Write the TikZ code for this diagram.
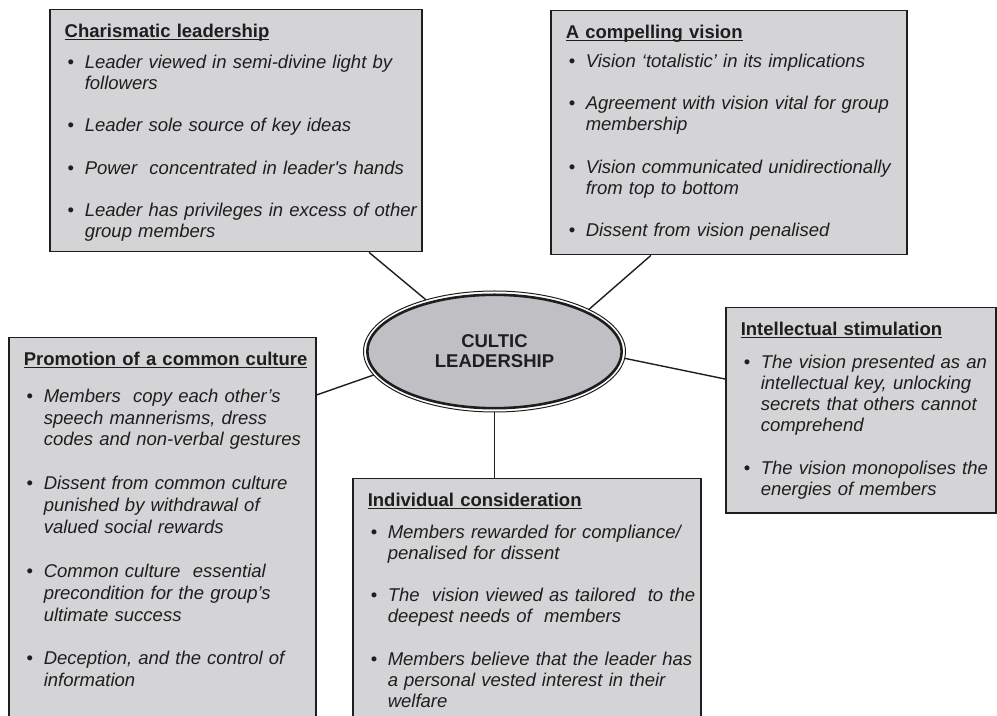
\documentclass[tikz,border=0pt]{standalone}
\usepackage{fontspec}
\setmainfont{Liberation Sans}
\usepackage{xcolor}
\usepackage{tikz}
\usetikzlibrary{shapes.geometric}
\definecolor{boxfill}{HTML}{D4D4D6}
\definecolor{ovalfill}{HTML}{C0C0C4}
\definecolor{ink}{HTML}{1E1E1E}
\newlength{\bulind}\setlength{\bulind}{10pt}
\newcommand{\boxfont}[1]{\fontsize{9.25pt}{#1}\selectfont}
\newcommand{\hdr}[2]{\noindent{\bfseries\setbox0\hbox{#2}\copy0\llap{\rule[-1.3pt]{\wd0}{0.6pt}}}\par\vspace{\dimexpr#1-2\baselineskip\relax}}
\newcommand{\itm}[1]{\par\vspace{\baselineskip}\noindent\makebox[\bulind][l]{\hspace{1.5pt}\textbullet}\mbox{\itshape #1}}
\newcommand{\cnt}[1]{\par\noindent\hspace*{\bulind}\mbox{\itshape #1}}
\newcommand{\tail}[1]{\par\vspace*{#1}}
\tikzstyle{topic} = [draw=ink, line width=0.75pt, fill=boxfill, anchor=north west, inner xsep=7.5pt, inner ysep=7pt, align=left, text=ink]
\tikzstyle{core} = [ellipse, draw=ink, line width=1.3pt, fill=ovalfill, minimum width=127.2pt, minimum height=56.7pt, outer sep=1.9pt, align=center, text=ink, font=\bfseries\fontsize{9.25pt}{10pt}\selectfont]
\tikzstyle{link} = [ink, line width=0.7pt]

\begin{document}
\begin{tikzpicture}[x=0.5pt,y=-0.5pt]
\useasboundingbox (0,0) rectangle (997,716);
\node[core] (cult) at (494.5,351.5) {CULTIC\\LEADERSHIP};
\draw[ink, line width=0.5pt] (cult.center) ellipse [x radius=65.5pt, y radius=30.25pt];
\node[topic, text width=171pt, font=\boxfont{10.6pt}] (charisma) at (49,9) {\hdr{15.5pt}{Charismatic leadership}
\itm{Leader viewed in semi-divine light by}\cnt{followers}
\itm{Leader sole source of key ideas}
\itm{Power~ concentrated in leader\textquotesingle s hands}
\itm{Leader has privileges in excess of other}\cnt{group members}\tail{-2pt}};
\node[topic, text width=163pt, font=\boxfont{10.6pt}] (vision) at (550,10) {\hdr{14.5pt}{A compelling vision}
\itm{Vision `totalistic' in its implications}
\itm{Agreement with vision vital for group}\cnt{membership}
\itm{Vision communicated unidirectionally}\cnt{from top to bottom}
\itm{Dissent from vision penalised}};
\node[topic, text width=138.5pt, font=\boxfont{10.95pt}] (culture) at (8,337) {\hdr{18.5pt}{Promotion of a common culture}
\itm{Members~ copy each other's}\cnt{speech mannerisms, dress}\cnt{codes and non-verbal gestures}
\itm{Dissent from common culture}\cnt{punished by withdrawal of}\cnt{valued social rewards}
\itm{Common culture~ essential}\cnt{precondition for the group's}\cnt{ultimate success}
\itm{Deception, and the control of}\cnt{information}\tail{25pt}};
\node[topic, text width=159pt, font=\boxfont{10.6pt}] (consider) at (352,478) {\hdr{16pt}{Individual consideration}
\itm{Members rewarded for compliance/}\cnt{penalised for dissent}
\itm{The~ vision viewed as tailored~ to the}\cnt{deepest needs of~ members}
\itm{Members believe that the leader has}\cnt{a personal vested interest in their}\cnt{welfare}\tail{20pt}};
\node[topic, text width=120pt, font=\boxfont{10.6pt}] (stim) at (725,307) {\hdr{16.5pt}{Intellectual stimulation}
\itm{The vision presented as an}\cnt{intellectual key, unlocking}\cnt{secrets that others cannot}\cnt{comprehend}
\itm{The vision monopolises the}\cnt{energies of members}};
\draw[link] ([xshift=160pt]charisma.south west) -- (cult.143.7);
\draw[link] ([xshift=50.5pt]vision.south west) -- (cult.24.9);
\draw[link] ([yshift=-29pt]culture.north east) -- (cult.191.9);
\draw[link] (cult.south) -- (cult.south |- consider.north);
\draw[link] (cult.-3.2) -- ([yshift=-36pt]stim.north west);
\end{tikzpicture}
\end{document}
